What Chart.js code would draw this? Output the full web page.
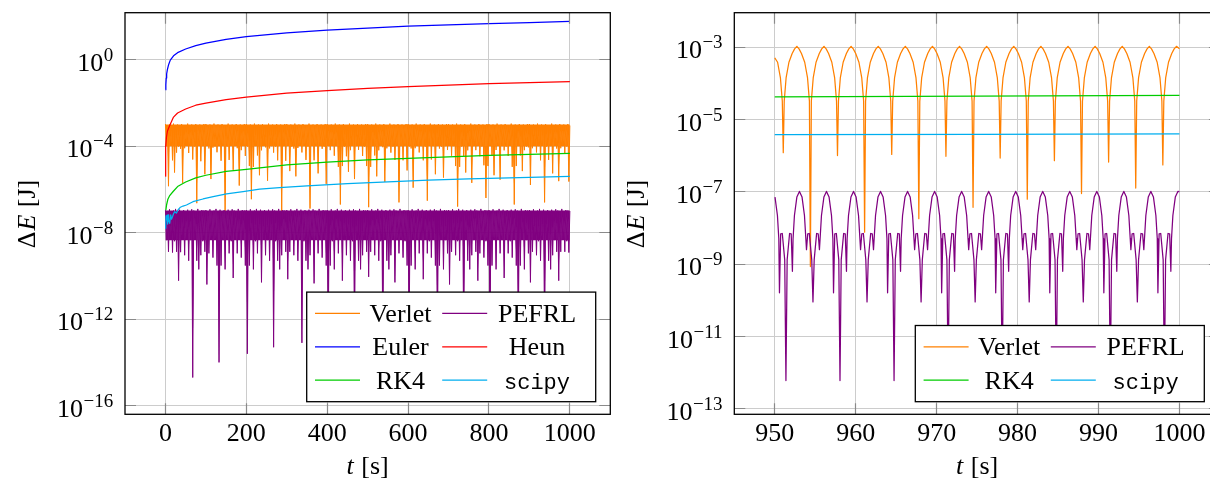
<!DOCTYPE html>
<html>
<head>
<meta charset="utf-8">
<script src="https://cdn.jsdelivr.net/npm/chart.js@4.4.1/dist/chart.umd.min.js"></script>
<style>
  html, body { margin: 0; padding: 0; background: #fff; width: 1210px; height: 484px; overflow: hidden; }
  canvas { position: absolute; top: 0; }
  #left { left: 0; }
  #right { left: 610px; }
</style>
</head>
<body>
<canvas id="left" width="620" height="484"></canvas>
<canvas id="right" width="620" height="484"></canvas>
<script>
// ---- full run, t = 0 .. 1000 s ----
// sampling grid shared by the two oscillating integrators
const bandT = [
  0,2.5,5,7.5,10,12.5,15,17.5,20,22.5,25,27.5,30,32.5,35,37.5,40,42.5,45,47.5,
  50,52.5,55,57.5,60,62.5,65,67.5,70,72.5,75,77.5,80,82.5,85,87.5,90,92.5,95,97.5,
  100,102.5,105,107.5,110,112.5,115,117.5,120,122.5,125,127.5,130,132.5,135,137.5,140,142.5,145,147.5,
  150,152.5,155,157.5,160,162.5,165,167.5,170,172.5,175,177.5,180,182.5,185,187.5,190,192.5,195,197.5,
  200,202.5,205,207.5,210,212.5,215,217.5,220,222.5,225,227.5,230,232.5,235,237.5,240,242.5,245,247.5,
  250,252.5,255,257.5,260,262.5,265,267.5,270,272.5,275,277.5,280,282.5,285,287.5,290,292.5,295,297.5,
  300,302.5,305,307.5,310,312.5,315,317.5,320,322.5,325,327.5,330,332.5,335,337.5,340,342.5,345,347.5,
  350,352.5,355,357.5,360,362.5,365,367.5,370,372.5,375,377.5,380,382.5,385,387.5,390,392.5,395,397.5,
  400,402.5,405,407.5,410,412.5,415,417.5,420,422.5,425,427.5,430,432.5,435,437.5,440,442.5,445,447.5,
  450,452.5,455,457.5,460,462.5,465,467.5,470,472.5,475,477.5,480,482.5,485,487.5,490,492.5,495,497.5,
  500,502.5,505,507.5,510,512.5,515,517.5,520,522.5,525,527.5,530,532.5,535,537.5,540,542.5,545,547.5,
  550,552.5,555,557.5,560,562.5,565,567.5,570,572.5,575,577.5,580,582.5,585,587.5,590,592.5,595,597.5,
  600,602.5,605,607.5,610,612.5,615,617.5,620,622.5,625,627.5,630,632.5,635,637.5,640,642.5,645,647.5,
  650,652.5,655,657.5,660,662.5,665,667.5,670,672.5,675,677.5,680,682.5,685,687.5,690,692.5,695,697.5,
  700,702.5,705,707.5,710,712.5,715,717.5,720,722.5,725,727.5,730,732.5,735,737.5,740,742.5,745,747.5,
  750,752.5,755,757.5,760,762.5,765,767.5,770,772.5,775,777.5,780,782.5,785,787.5,790,792.5,795,797.5,
  800,802.5,805,807.5,810,812.5,815,817.5,820,822.5,825,827.5,830,832.5,835,837.5,840,842.5,845,847.5,
  850,852.5,855,857.5,860,862.5,865,867.5,870,872.5,875,877.5,880,882.5,885,887.5,890,892.5,895,897.5,
  900,902.5,905,907.5,910,912.5,915,917.5,920,922.5,925,927.5,930,932.5,935,937.5,940,942.5,945,947.5,
  950,952.5,955,957.5,960,962.5,965,967.5,970,972.5,975,977.5,980,982.5,985,987.5,990,992.5,995,997.5,
  1000
];

const verletLeftE = [
  1.05e-3,1e-4,9e-4,1.4e-6,1e-3,1.05e-4,8.5e-4,2.2e-5,1.1e-3,6e-6,9.5e-4,5e-5,1e-3,9.5e-5,8.8e-4,7.5e-5,1.05e-3,2e-6,9.2e-4,8e-5,
  9.5e-4,1.1e-4,1.1e-3,4.8e-5,9e-4,1e-4,1e-3,2.4e-5,8.5e-4,9.5e-5,1.05e-3,2.3e-7,9.2e-4,1.05e-4,1e-3,2e-5,8.8e-4,1e-4,1.05e-3,5e-6,
  1.05e-3,1.1e-4,9e-4,7.8e-5,1e-3,3e-6,8.5e-4,8.5e-5,1.1e-3,9.5e-5,9.5e-4,5.2e-5,1e-3,1e-4,8.8e-4,2.1e-5,1.05e-3,1.05e-4,9.2e-4,1e-7,
  9.5e-4,9.5e-5,1.1e-3,2.3e-5,9e-4,1.1e-4,1e-3,8e-6,8.5e-4,1e-4,1.05e-3,8e-5,9.2e-4,1.5e-6,1e-3,6.5e-5,8.8e-4,1.05e-4,1.05e-3,3.5e-5,
  1.05e-3,9.5e-5,9e-4,1.2e-5,1e-3,3.5e-7,8.5e-4,1.1e-5,1.1e-3,1e-4,9.5e-4,3.7e-5,1e-3,4.5e-6,8.8e-4,6.4e-5,1.05e-3,1.1e-4,9.2e-4,8.8e-5,
  9.5e-4,2.5e-6,1.1e-3,7.8e-5,9e-4,1e-4,1e-3,5e-5,8.5e-4,9.5e-5,1.05e-3,2.2e-5,9.2e-4,1.05e-4,1e-3,8e-8,8.8e-4,1e-4,1.05e-3,2.1e-5,
  1.05e-3,1.1e-4,9e-4,7e-6,1e-3,9.5e-5,8.5e-4,7.7e-5,1.1e-3,4e-6,9.5e-4,8.2e-5,1e-3,1.05e-4,8.8e-4,5.1e-5,1.05e-3,1e-4,9.2e-4,2.3e-5,
  9.5e-4,9.5e-5,1.1e-3,1.3e-7,9e-4,1.1e-4,1e-3,2.2e-5,8.5e-4,1e-4,1.05e-3,5.5e-6,9.2e-4,1.05e-4,1e-3,7.5e-5,8.8e-4,9.5e-5,1.05e-3,1.8e-6,
  1.05e-3,1e-4,9e-4,6.5e-5,1e-3,1.1e-4,8.5e-4,3.6e-5,1.1e-3,1e-4,9.5e-4,1.1e-5,1e-3,2e-7,8.8e-4,1.2e-5,1.05e-3,9.5e-5,9.2e-4,3.4e-5,
  9.5e-4,6.5e-6,1.1e-3,6.5e-5,9e-4,1.05e-4,1e-3,3e-6,8.5e-4,1e-4,1.05e-3,6.7e-5,9.2e-4,1.1e-4,1e-3,3.5e-5,8.8e-4,9.5e-5,1.05e-3,1.2e-5,
  1.05e-3,1.5e-7,9e-4,1.1e-5,1e-3,1e-4,8.5e-4,3.7e-5,1.1e-3,4e-6,9.5e-4,6.4e-5,1e-3,1.05e-4,8.8e-4,8.9e-5,1.05e-3,2.2e-6,9.2e-4,7.9e-5,
  9.5e-4,1e-4,1.1e-3,5e-5,9e-4,9.5e-5,1e-3,2.3e-5,8.5e-4,1.1e-4,1.05e-3,2.5e-7,9.2e-4,1e-4,1e-3,2.2e-5,8.8e-4,1.05e-4,1.05e-3,7.5e-6,
  1.05e-3,9.5e-5,9e-4,7.8e-5,1e-3,1.2e-6,8.5e-4,8e-5,1.1e-3,1.1e-4,9.5e-4,5.1e-5,1e-3,1e-4,8.8e-4,2.2e-5,1.05e-3,9.5e-5,9.2e-4,3e-7,
  9.5e-4,1.05e-4,1.1e-3,2.4e-5,9e-4,1e-4,1e-3,5e-6,8.5e-4,1.1e-4,1.05e-3,7.7e-5,9.2e-4,9.5e-5,1e-3,3.5e-6,8.8e-4,1e-4,1.05e-3,6.6e-5,
  1.05e-3,1.05e-4,9e-4,3.6e-5,1e-3,1e-4,8.5e-4,1.2e-5,1.1e-3,1.6e-7,9.5e-4,1.1e-5,1e-3,9.5e-5,8.8e-4,3.5e-5,1.05e-3,6e-6,9.2e-4,6.4e-5,
  9.5e-4,1.1e-4,1.1e-3,2e-6,9e-4,1e-4,1e-3,6.5e-5,8.5e-4,1.05e-4,1.05e-3,3.4e-5,9.2e-4,9.5e-5,1e-3,1.3e-5,8.8e-4,4e-7,1.05e-3,1.2e-5,
  1.05e-3,1e-4,9e-4,3.6e-5,1e-3,4.5e-6,8.5e-4,6.6e-5,1.1e-3,1.1e-4,9.5e-4,2.8e-6,1e-3,1e-4,8.8e-4,6.4e-5,1.05e-3,9.5e-5,9.2e-4,3.5e-5,
  9.5e-4,1.05e-4,1.1e-3,1.1e-5,9e-4,2e-7,1e-3,1.2e-5,8.5e-4,1e-4,1.05e-3,3.7e-5,9.2e-4,7e-6,1e-3,6.5e-5,8.8e-4,9.5e-5,1.05e-3,8.8e-5,
  1.05e-3,1.6e-6,9e-4,8e-5,1e-3,1.1e-4,8.5e-4,5.1e-5,1.1e-3,1e-4,9.5e-4,2.2e-5,1e-3,1.05e-4,8.8e-4,2.5e-7,1.05e-3,9.5e-5,9.2e-4,2.3e-5,
  9.5e-4,1e-4,1.1e-3,5.5e-6,9e-4,1.1e-4,1e-3,7.7e-5,8.5e-4,2.4e-6,1.05e-3,8e-5,9.2e-4,1e-4,1e-3,4.8e-5,8.8e-4,9.5e-5,1.05e-3,2.3e-6,
  9e-4
];

const pefrlLeftE = [
  1.1e-7,4.5e-9,1e-7,1.3e-9,1.2e-7,5e-9,9.5e-8,1.2e-9,1.05e-7,4e-9,1.25e-7,1.3e-9,1e-7,6e-11,1.15e-7,1.25e-9,9.5e-8,5.5e-9,1.1e-7,9e-10,
  1e-7,4.8e-9,1.15e-7,5e-10,9.5e-8,4.5e-9,1.2e-7,2e-15,1.05e-7,5e-9,1e-7,5e-10,1.25e-7,2e-10,9.5e-8,9e-10,1.1e-7,4e-9,1.05e-7,1.3e-9,
  1.1e-7,4e-11,1e-7,1.1e-9,1.2e-7,5.5e-9,9.5e-8,7e-10,1.05e-7,4.8e-9,1.25e-7,3e-10,1e-7,1e-14,1.15e-7,3e-10,9.5e-8,4.5e-9,1.1e-7,2e-10,
  1e-7,5e-9,1.15e-7,1.1e-9,9.5e-8,4e-9,1.2e-7,8e-11,1.05e-7,5.5e-9,1e-7,1.1e-9,1.25e-7,4.8e-9,9.5e-8,7e-10,1.1e-7,4.5e-9,1.05e-7,3e-10,
  1.1e-7,2.5e-14,1e-7,3e-10,1.2e-7,5e-9,9.5e-8,2e-10,1.05e-7,4e-9,1.25e-7,1.1e-9,1e-7,5.5e-9,1.15e-7,5e-11,9.5e-8,4.8e-9,1.1e-7,9e-10,
  1e-7,4.5e-9,1.15e-7,5e-10,9.5e-8,5e-9,1.2e-7,5e-14,1.05e-7,4e-9,1e-7,5e-10,1.25e-7,2e-10,9.5e-8,9e-10,1.1e-7,5.5e-9,1.05e-7,1.3e-9,
  1.1e-7,7e-11,1e-7,1.3e-9,1.2e-7,4.8e-9,9.5e-8,9e-10,1.05e-7,4.5e-9,1.25e-7,5e-10,1e-7,5e-9,1.15e-7,8e-14,9.5e-8,4e-9,1.1e-7,5e-10,
  1e-7,2e-10,1.15e-7,9e-10,9.5e-8,5.5e-9,1.2e-7,4.5e-11,1.05e-7,4.8e-9,1e-7,1.1e-9,1.25e-7,4.5e-9,9.5e-8,7e-10,1.1e-7,5e-9,1.05e-7,3e-10,
  1.1e-7,1e-13,1e-7,3e-10,1.2e-7,4e-9,9.5e-8,2e-10,1.05e-7,5.5e-9,1.25e-7,1.1e-9,1e-7,4.8e-9,1.15e-7,6e-11,9.5e-8,4.5e-9,1.1e-7,9e-10,
  1e-7,5e-9,1.15e-7,5e-10,9.5e-8,4e-9,1.2e-7,1.2e-13,1.05e-7,5.5e-9,1e-7,5e-10,1.25e-7,2e-10,9.5e-8,9e-10,1.1e-7,4.8e-9,1.05e-7,1.3e-9,
  1.1e-7,9e-11,1e-7,1.3e-9,1.2e-7,4.5e-9,9.5e-8,9e-10,1.05e-7,5e-9,1.25e-7,5e-10,1e-7,4e-9,1.15e-7,1e-13,9.5e-8,5.5e-9,1.1e-7,5e-10,
  1e-7,2e-10,1.15e-7,9e-10,9.5e-8,4.8e-9,1.2e-7,5e-11,1.05e-7,4.5e-9,1e-7,1.1e-9,1.25e-7,5e-9,9.5e-8,7e-10,1.1e-7,4e-9,1.05e-7,3e-10,
  1.1e-7,1.5e-13,1e-7,3e-10,1.2e-7,5.5e-9,9.5e-8,2e-10,1.05e-7,4.8e-9,1.25e-7,1.1e-9,1e-7,4.5e-9,1.15e-7,7e-11,9.5e-8,5e-9,1.1e-7,1.1e-9,
  1e-7,4e-9,1.15e-7,7e-10,9.5e-8,5.5e-9,1.2e-7,3e-10,1.05e-7,1e-13,1e-7,3e-10,1.25e-7,4.8e-9,9.5e-8,2e-10,1.1e-7,4.5e-9,1.05e-7,1.1e-9,
  1.1e-7,4e-11,1e-7,1.3e-9,1.2e-7,5e-9,9.5e-8,9e-10,1.05e-7,4e-9,1.25e-7,5e-10,1e-7,5.5e-9,1.15e-7,1.2e-13,9.5e-8,4.8e-9,1.1e-7,5e-10,
  1e-7,2e-10,1.15e-7,9e-10,9.5e-8,4.5e-9,1.2e-7,1.3e-9,1.05e-7,6e-11,1e-7,1.1e-9,1.25e-7,5e-9,9.5e-8,7e-10,1.1e-7,4e-9,1.05e-7,3e-10,
  1.1e-7,1e-13,1e-7,3e-10,1.2e-7,5.5e-9,9.5e-8,2e-10,1.05e-7,4.8e-9,1.25e-7,1.1e-9,1e-7,4.5e-9,1.15e-7,8e-11,9.5e-8,5e-9,1.1e-7,1.1e-9,
  1e-7,4e-9,1.15e-7,7e-10,9.5e-8,5.5e-9,1.2e-7,3e-10,1.05e-7,1.5e-13,1e-7,3e-10,1.25e-7,4.8e-9,9.5e-8,2e-10,1.1e-7,4.5e-9,1.05e-7,1.1e-9,
  1.1e-7,5e-11,1e-7,1.3e-9,1.2e-7,5e-9,9.5e-8,9e-10,1.05e-7,4e-9,1.25e-7,5e-10,1e-7,5.5e-9,1.15e-7,1.2e-13,9.5e-8,4.8e-9,1.1e-7,5e-10,
  1e-7,2e-10,1.15e-7,9e-10,9.5e-8,4.5e-9,1.2e-7,1.3e-9,1.05e-7,6e-11,1e-7,1.3e-9,1.25e-7,5e-9,9.5e-8,1.3e-9,1.1e-7,4e-9,1.05e-7,1.2e-9,
  1e-7
];

const eulerT = [0.5, 1, 2, 3, 5, 8, 12, 20, 30, 50, 75, 100, 150, 200, 300, 400, 500, 600, 700, 800, 900, 1000];
const eulerE = [0.04, 0.07, 0.14, 0.22, 0.36, 0.6, 0.95, 1.5, 2.1, 3.1, 4.4, 5.8, 8.7, 11.6, 17.4, 23, 29, 35, 40.5, 46.5, 52, 58];

const heunT = [0.05, 0.2, 0.5, 1, 2.5, 5, 10, 20, 30, 50, 75, 100, 150, 200, 300, 400, 500, 600, 700, 800, 900, 1000];
const heunE = [4e-6, 2e-5, 5e-5, 1e-4, 2.6e-4, 5e-4, 8.5e-4, 2.2e-3, 3.4e-3, 5.2e-3, 7.8e-3, 0.0098, 0.0142, 0.0185, 0.028, 0.037, 0.047, 0.057, 0.067, 0.077, 0.087, 0.096];

const rk4LeftT = [1, 3, 6, 10, 19, 30, 50, 75, 100, 150, 200, 300, 400, 500, 600, 700, 800, 900, 1000];
const rk4LeftE = [1.1e-7, 2e-7, 3.5e-7, 5e-7, 8e-7, 1.35e-6, 2.2e-6, 3.4e-6, 4.5e-6, 6.8e-6, 8.5e-6, 1.35e-5, 1.8e-5, 2.3e-5, 2.75e-5, 3.2e-5, 3.7e-5, 4.15e-5, 4.6e-5];

const scipyLeftT = [0.5, 1.5, 2.5, 4, 5.5, 6.5, 8, 10.5, 13, 15, 17.5, 20, 23, 27, 31, 37, 43.5, 52, 68, 93, 118, 151, 192, 233, 282, 350, 450, 550, 650, 750, 850, 1000];
const scipyLeftE = [1.5e-8, 6e-8, 3.9e-8, 6.5e-8, 2.5e-8, 6.6e-8, 4e-8, 2.7e-8, 6.6e-8, 4.2e-8, 5.5e-8, 7.5e-8, 9.3e-8, 8e-8, 1.12e-7, 1.5e-7, 1.7e-7, 1.9e-7, 2.7e-7, 3.6e-7, 4.6e-7, 6.2e-7, 7.9e-7, 1.02e-6, 1.2e-6, 1.45e-6, 1.85e-6, 2.25e-6, 2.65e-6, 3.05e-6, 3.45e-6, 4e-6];

// ---- last 50 s, t = 950 .. 1000 s ----
const verletRightT = [
  950.00, 950.35, 950.70, 950.93,
  951.05, 951.17, 951.40, 951.75, 952.15, 952.45, 952.73, 953.00, 953.30, 953.70, 954.05, 954.28,
  954.40, 954.52, 954.75, 955.10, 955.50, 955.80, 956.08, 956.35, 956.65, 957.05, 957.40, 957.63,
  957.75, 957.87, 958.10, 958.45, 958.85, 959.15, 959.43, 959.70, 960.00, 960.40, 960.75, 960.98,
  961.10, 961.22, 961.45, 961.80, 962.20, 962.50, 962.78, 963.05, 963.35, 963.75, 964.10, 964.33,
  964.45, 964.57, 964.80, 965.15, 965.55, 965.85, 966.13, 966.40, 966.70, 967.10, 967.45, 967.68,
  967.80, 967.92, 968.15, 968.50, 968.90, 969.20, 969.48, 969.75, 970.05, 970.45, 970.80, 971.03,
  971.15, 971.27, 971.50, 971.85, 972.25, 972.55, 972.83, 973.10, 973.40, 973.80, 974.15, 974.38,
  974.50, 974.62, 974.85, 975.20, 975.60, 975.90, 976.18, 976.45, 976.75, 977.15, 977.50, 977.73,
  977.85, 977.97, 978.20, 978.55, 978.95, 979.25, 979.53, 979.80, 980.10, 980.50, 980.85, 981.08,
  981.20, 981.32, 981.55, 981.90, 982.30, 982.60, 982.88, 983.15, 983.45, 983.85, 984.20, 984.43,
  984.55, 984.67, 984.90, 985.25, 985.65, 985.95, 986.23, 986.50, 986.80, 987.20, 987.55, 987.78,
  987.90, 988.02, 988.25, 988.60, 989.00, 989.30, 989.58, 989.85, 990.15, 990.55, 990.90, 991.13,
  991.25, 991.37, 991.60, 991.95, 992.35, 992.65, 992.93, 993.20, 993.50, 993.90, 994.25, 994.48,
  994.60, 994.72, 994.95, 995.30, 995.70, 996.00, 996.28, 996.55, 996.85, 997.25, 997.60, 997.83,
  997.95, 998.07, 998.30, 998.65, 999.05, 999.35, 999.63, 1000.00
];
const verletRightE = [
  5e-4, 3.8e-4, 1.4e-4, 3.2e-5,
  1.2e-6, 3.2e-5, 1.4e-4, 3.8e-4, 6.6e-4, 8.9e-4, 1.05e-3, 8.9e-4, 6.6e-4, 3.8e-4, 1.4e-4, 3.2e-5,
  8.5e-10, 3.2e-5, 1.4e-4, 3.8e-4, 6.6e-4, 8.9e-4, 1.05e-3, 8.9e-4, 6.6e-4, 3.8e-4, 1.4e-4, 3.2e-5,
  1e-6, 3.2e-5, 1.4e-4, 3.8e-4, 6.6e-4, 8.9e-4, 1.05e-3, 8.9e-4, 6.6e-4, 3.8e-4, 1.4e-4, 3.2e-5,
  7.6e-9, 3.2e-5, 1.4e-4, 3.8e-4, 6.6e-4, 8.9e-4, 1.05e-3, 8.9e-4, 6.6e-4, 3.8e-4, 1.4e-4, 3.2e-5,
  1.07e-6, 3.2e-5, 1.4e-4, 3.8e-4, 6.6e-4, 8.9e-4, 1.05e-3, 8.9e-4, 6.6e-4, 3.8e-4, 1.4e-4, 3.2e-5,
  1.8e-8, 3.2e-5, 1.4e-4, 3.8e-4, 6.6e-4, 8.9e-4, 1.05e-3, 8.9e-4, 6.6e-4, 3.8e-4, 1.4e-4, 3.2e-5,
  9.5e-7, 3.2e-5, 1.4e-4, 3.8e-4, 6.6e-4, 8.9e-4, 1.05e-3, 8.9e-4, 6.6e-4, 3.8e-4, 1.4e-4, 3.2e-5,
  3.7e-8, 3.2e-5, 1.4e-4, 3.8e-4, 6.6e-4, 8.9e-4, 1.05e-3, 8.9e-4, 6.6e-4, 3.8e-4, 1.4e-4, 3.2e-5,
  8.5e-7, 3.2e-5, 1.4e-4, 3.8e-4, 6.6e-4, 8.9e-4, 1.05e-3, 8.9e-4, 6.6e-4, 3.8e-4, 1.4e-4, 3.2e-5,
  6.2e-8, 3.2e-5, 1.4e-4, 3.8e-4, 6.6e-4, 8.9e-4, 1.05e-3, 8.9e-4, 6.6e-4, 3.8e-4, 1.4e-4, 3.2e-5,
  7.2e-7, 3.2e-5, 1.4e-4, 3.8e-4, 6.6e-4, 8.9e-4, 1.05e-3, 8.9e-4, 6.6e-4, 3.8e-4, 1.4e-4, 3.2e-5,
  8.9e-8, 3.2e-5, 1.4e-4, 3.8e-4, 6.6e-4, 8.9e-4, 1.05e-3, 8.9e-4, 6.6e-4, 3.8e-4, 1.4e-4, 3.2e-5,
  6.6e-7, 3.2e-5, 1.4e-4, 3.8e-4, 6.6e-4, 8.9e-4, 1.05e-3, 8.9e-4, 6.6e-4, 3.8e-4, 1.4e-4, 3.2e-5,
  1.26e-7, 3.2e-5, 1.4e-4, 3.8e-4, 6.6e-4, 8.9e-4, 1.05e-3, 8.9e-4, 6.6e-4, 3.8e-4, 1.4e-4, 3.2e-5,
  5.5e-7, 3.2e-5, 1.4e-4, 3.8e-4, 6.6e-4, 8.9e-4, 1.05e-3, 9e-4
];

const pefrlRightT = [
  950.03, 950.33, 950.50, 950.58, 950.73, 950.93, 951.23, 951.38, 951.53, 951.83, 952.03, 952.18, 952.26, 952.43, 952.73, 953.05,
  953.37, 953.67, 953.84, 953.92, 954.07, 954.27, 954.57, 954.72, 954.87, 955.17, 955.37, 955.52, 955.60, 955.77, 956.07, 956.39,
  956.71, 957.01, 957.18, 957.26, 957.41, 957.61, 957.91, 958.06, 958.21, 958.51, 958.71, 958.86, 958.94, 959.11, 959.41, 959.73,
  960.05, 960.35, 960.52, 960.60, 960.75, 960.95, 961.25, 961.40, 961.55, 961.85, 962.05, 962.20, 962.28, 962.45, 962.75, 963.07,
  963.39, 963.69, 963.86, 963.94, 964.09, 964.29, 964.59, 964.74, 964.89, 965.19, 965.39, 965.54, 965.62, 965.79, 966.09, 966.41,
  966.73, 967.03, 967.20, 967.28, 967.43, 967.63, 967.93, 968.08, 968.23, 968.53, 968.73, 968.88, 968.96, 969.13, 969.43, 969.75,
  970.07, 970.37, 970.54, 970.62, 970.77, 970.97, 971.27, 971.42, 971.57, 971.87, 972.07, 972.22, 972.30, 972.47, 972.77, 973.09,
  973.41, 973.71, 973.88, 973.96, 974.11, 974.31, 974.61, 974.76, 974.91, 975.21, 975.41, 975.56, 975.64, 975.81, 976.11, 976.43,
  976.75, 977.05, 977.22, 977.30, 977.45, 977.65, 977.95, 978.10, 978.25, 978.55, 978.75, 978.90, 978.98, 979.15, 979.45, 979.77,
  980.09, 980.39, 980.56, 980.64, 980.79, 980.99, 981.29, 981.44, 981.59, 981.89, 982.09, 982.24, 982.32, 982.49, 982.79, 983.11,
  983.43, 983.73, 983.90, 983.98, 984.13, 984.33, 984.63, 984.78, 984.93, 985.23, 985.43, 985.58, 985.66, 985.83, 986.13, 986.45,
  986.77, 987.07, 987.24, 987.32, 987.47, 987.67, 987.97, 988.12, 988.27, 988.57, 988.77, 988.92, 989.00, 989.17, 989.47, 989.79,
  990.11, 990.41, 990.58, 990.66, 990.81, 991.01, 991.31, 991.46, 991.61, 991.91, 992.11, 992.26, 992.34, 992.51, 992.81, 993.13,
  993.45, 993.75, 993.92, 994.00, 994.15, 994.35, 994.65, 994.80, 994.95, 995.25, 995.45, 995.60, 995.68, 995.85, 996.15, 996.47,
  996.79, 997.09, 997.26, 997.34, 997.49, 997.69, 997.99, 998.14, 998.29, 998.59, 998.79, 998.94, 999.02, 999.19, 999.49, 999.81,
  1000.00
];
const pefrlRightE = [
  7.1e-8, 2.2e-8, 5e-9, 1.6e-10, 6.8e-9, 7e-9, 1.3e-9, 6e-13, 1.3e-9, 7e-9, 6.8e-9, 6.3e-10, 5e-9, 2.2e-8, 7.1e-8, 1.02e-7,
  7.1e-8, 2.2e-8, 5e-9, 2.5e-9, 6.8e-9, 7e-9, 1.3e-9, 9e-11, 1.3e-9, 7e-9, 6.8e-9, 2.5e-9, 5e-9, 2.2e-8, 7.1e-8, 1.02e-7,
  7.1e-8, 2.2e-8, 5e-9, 1.6e-10, 6.8e-9, 7e-9, 1.3e-9, 6e-13, 1.3e-9, 7e-9, 6.8e-9, 6.3e-10, 5e-9, 2.2e-8, 7.1e-8, 1.02e-7,
  7.1e-8, 2.2e-8, 5e-9, 2.5e-9, 6.8e-9, 7e-9, 1.3e-9, 9e-11, 1.3e-9, 7e-9, 6.8e-9, 2.5e-9, 5e-9, 2.2e-8, 7.1e-8, 1.02e-7,
  7.1e-8, 2.2e-8, 5e-9, 1.6e-10, 6.8e-9, 7e-9, 1.3e-9, 6e-13, 1.3e-9, 7e-9, 6.8e-9, 6.3e-10, 5e-9, 2.2e-8, 7.1e-8, 1.02e-7,
  7.1e-8, 2.2e-8, 5e-9, 2.5e-9, 6.8e-9, 7e-9, 1.3e-9, 9e-11, 1.3e-9, 7e-9, 6.8e-9, 2.5e-9, 5e-9, 2.2e-8, 7.1e-8, 1.02e-7,
  7.1e-8, 2.2e-8, 5e-9, 1.6e-10, 6.8e-9, 7e-9, 1.3e-9, 6e-13, 1.3e-9, 7e-9, 6.8e-9, 6.3e-10, 5e-9, 2.2e-8, 7.1e-8, 1.02e-7,
  7.1e-8, 2.2e-8, 5e-9, 2.5e-9, 6.8e-9, 7e-9, 1.3e-9, 9e-11, 1.3e-9, 7e-9, 6.8e-9, 2.5e-9, 5e-9, 2.2e-8, 7.1e-8, 1.02e-7,
  7.1e-8, 2.2e-8, 5e-9, 1.6e-10, 6.8e-9, 7e-9, 1.3e-9, 6e-13, 1.3e-9, 7e-9, 6.8e-9, 6.3e-10, 5e-9, 2.2e-8, 7.1e-8, 1.02e-7,
  7.1e-8, 2.2e-8, 5e-9, 2.5e-9, 6.8e-9, 7e-9, 1.3e-9, 9e-11, 1.3e-9, 7e-9, 6.8e-9, 2.5e-9, 5e-9, 2.2e-8, 7.1e-8, 1.02e-7,
  7.1e-8, 2.2e-8, 5e-9, 1.6e-10, 6.8e-9, 7e-9, 1.3e-9, 6e-13, 1.3e-9, 7e-9, 6.8e-9, 6.3e-10, 5e-9, 2.2e-8, 7.1e-8, 1.02e-7,
  7.1e-8, 2.2e-8, 5e-9, 2.5e-9, 6.8e-9, 7e-9, 1.3e-9, 9e-11, 1.3e-9, 7e-9, 6.8e-9, 2.5e-9, 5e-9, 2.2e-8, 7.1e-8, 1.02e-7,
  7.1e-8, 2.2e-8, 5e-9, 1.6e-10, 6.8e-9, 7e-9, 1.3e-9, 6e-13, 1.3e-9, 7e-9, 6.8e-9, 6.3e-10, 5e-9, 2.2e-8, 7.1e-8, 1.02e-7,
  7.1e-8, 2.2e-8, 5e-9, 2.5e-9, 6.8e-9, 7e-9, 1.3e-9, 9e-11, 1.3e-9, 7e-9, 6.8e-9, 2.5e-9, 5e-9, 2.2e-8, 7.1e-8, 1.02e-7,
  7.1e-8, 2.2e-8, 5e-9, 1.6e-10, 6.8e-9, 7e-9, 1.3e-9, 6e-13, 1.3e-9, 7e-9, 6.8e-9, 6.3e-10, 5e-9, 2.2e-8, 7.1e-8, 1.02e-7,
  1e-7
];

const rk4RightT = [950, 975, 1000];
const rk4RightE = [4.22e-5, 4.4e-5, 4.6e-5];
const scipyRightT = [950, 975, 1000];
const scipyRightE = [3.77e-6, 3.88e-6, 4.0e-6];

// ---- axes ----
const leftXTicks = [0, 200, 400, 600, 800, 1000];
const leftYTicks = [1e0, 1e-4, 1e-8, 1e-12, 1e-16];
const leftYExps = ['0', '\u22124', '\u22128', '\u221212', '\u221216'];
const rightXTicks = [950, 960, 970, 980, 990, 1000];
const rightYTicks = [1e-3, 1e-5, 1e-7, 1e-9, 1e-11, 1e-13];
const rightYExps = ['\u22123', '\u22125', '\u22127', '\u22129', '\u221211', '\u221213'];

const SERIF = '"Liberation Serif", "DejaVu Serif", serif';
const MONO = '"Liberation Mono", "DejaVu Sans Mono", monospace';
const GRID = 'rgb(204,204,204)';
const TICK_LEN = 11;

const COLORS = {
  verlet: '#ff8000',
  pefrl: '#800080',
  euler: '#0000ff',
  heun: '#ff0000',
  rk4: '#00cc00',
  scipy: '#00aeef'
};

function series(label, color, ts, es, order, extra = {}) {
  const ds = {
    label,
    mono: !!extra.mono,
    data: ts.map((t, i) => ({ x: t, y: es[i] })),
    borderColor: color,
    backgroundColor: color,
    borderWidth: extra.width || 1.25,
    borderJoinStyle: 'round',
    pointRadius: 0,
    fill: false,
    tension: 0,
    order
  };
  if (extra.fillTo) ds.fill = { value: extra.fillTo };
  return ds;
}

// The fast oscillation cannot be resolved at this time scale. The curve is
// filled up to its upper envelope, and a borderless copy is filled down to the
// usual trough level, so the band between the two comes out solid.
function bandUnderlay(color, ts, es, order, floor) {
  const ds = series('', color, ts, es, order, { fillTo: floor });
  ds.borderColor = 'rgba(0,0,0,0)';
  ds.inLegend = false;
  return ds;
}

// text made of upright and italic runs, centred on (cx, baseline)
function drawRuns(ctx, runs, cx, baseline, size) {
  const widths = runs.map(([txt, it]) => {
    ctx.font = `${it ? 'italic ' : ''}${size}px ${SERIF}`;
    return ctx.measureText(txt).width;
  });
  const gap = 1;
  const total = widths.reduce((s, w) => s + w, 0) + (runs.length - 1) * gap;
  let x = cx - total / 2;
  ctx.textAlign = 'left';
  runs.forEach(([txt, it], i) => {
    ctx.font = `${it ? 'italic ' : ''}${size}px ${SERIF}`;
    ctx.fillText(txt, x, baseline);
    x += widths[i] + gap;
  });
}

const pgfAxes = {
  id: 'pgfAxes',
  afterDatasetsDraw(chart, args, o) {
    const { ctx, chartArea: a } = chart;
    const xs = chart.scales.x, ys = chart.scales.y;
    const align = p => Math.round(p - 0.5) + 0.5;
    ctx.save();

    // tick marks pointing inwards on every side
    ctx.strokeStyle = '#8a8a8a';
    ctx.lineWidth = 1.2;
    ctx.beginPath();
    o.xTicks.forEach(v => {
      const px = align(xs.getPixelForValue(v));
      ctx.moveTo(px, a.top); ctx.lineTo(px, a.top + TICK_LEN);
      ctx.moveTo(px, a.bottom); ctx.lineTo(px, a.bottom - TICK_LEN);
    });
    o.yTicks.forEach(v => {
      const py = align(ys.getPixelForValue(v));
      ctx.moveTo(a.left, py); ctx.lineTo(a.left + TICK_LEN, py);
      ctx.moveTo(a.right, py); ctx.lineTo(a.right - TICK_LEN, py);
    });
    ctx.stroke();

    // axis box
    ctx.strokeStyle = '#000';
    ctx.lineWidth = 1.3;
    ctx.strokeRect(a.left, a.top, a.right - a.left, a.bottom - a.top);

    // x tick labels
    ctx.fillStyle = '#000';
    ctx.textBaseline = 'alphabetic';
    ctx.textAlign = 'center';
    ctx.font = `26px ${SERIF}`;
    o.xTicks.forEach(v => ctx.fillText(String(v), xs.getPixelForValue(v), a.bottom + 26.7));

    // y tick labels as 10 with a raised exponent
    ctx.textAlign = 'right';
    o.yTicks.forEach((v, i) => {
      const py = ys.getPixelForValue(v);
      const right = a.left - 11.7;
      ctx.font = `19px ${SERIF}`;
      const ew = ctx.measureText(o.yExps[i]).width;
      ctx.fillText(o.yExps[i], right, py + 1.3);
      ctx.font = `26px ${SERIF}`;
      ctx.fillText('10', right - ew - 0.5, py + 11.3);
    });

    // axis titles
    drawRuns(ctx, [['t', true], [' [s]', false]], (a.left + a.right) / 2, 474, 26);
    ctx.save();
    ctx.translate(a.left - 90.5, 214);
    ctx.rotate(-Math.PI / 2);
    drawRuns(ctx, [['\u0394', false], ['E', true], [' [J]', false]], 0, 0, 26);
    ctx.restore();

    // legend, two entries per row in dataset order
    const sets = chart.data.datasets.filter(ds => ds.inLegend !== false);
    const rows = [];
    for (let i = 0; i < sets.length; i += 2) rows.push(sets.slice(i, i + 2));
    const w = 289, gap = 33.4;
    const h = 21.3 + (rows.length - 1) * gap + 21.5;
    const x0 = a.right - o.legendRight - w;
    const y0 = a.bottom - 12.6 - h;
    ctx.fillStyle = '#fff';
    ctx.fillRect(x0, y0, w, h);
    ctx.strokeStyle = '#000';
    ctx.lineWidth = 1.3;
    ctx.strokeRect(x0, y0, w, h);
    ctx.textAlign = 'center';
    rows.forEach((row, r) => {
      const ly = y0 + 21.3 + r * gap;
      row.forEach((ds, c) => {
        const sx = x0 + (c ? 135.5 : 8.3);
        ctx.strokeStyle = ds.borderColor;
        ctx.lineWidth = 1.2;
        ctx.beginPath();
        ctx.moveTo(sx, ly);
        ctx.lineTo(sx + 45, ly);
        ctx.stroke();
        ctx.fillStyle = '#000';
        ctx.font = ds.mono ? `22px ${MONO}` : `26px ${SERIF}`;
        ctx.fillText(ds.label, x0 + (c ? 230.3 : 93.8), ly + 8.3);
      });
    });
    ctx.restore();
  }
};

function makeChart(id, datasets, cfg) {
  return new Chart(document.getElementById(id), {
    type: 'line',
    data: { datasets },
    options: {
      responsive: false,
      animation: false,
      devicePixelRatio: 1,
      events: [],
      parsing: false,
      layout: { padding: { top: 12.7, right: cfg.padRight, left: 0, bottom: 0 } },
      scales: {
        x: {
          type: 'linear',
          bounds: 'data',
          min: cfg.xRange[0],
          max: cfg.xRange[1],
          afterBuildTicks: s => { s.ticks = cfg.xTicks.map(v => ({ value: v })); },
          afterFit: s => { s.height = 69.7; },
          ticks: { display: false },
          grid: { color: GRID, lineWidth: 1, drawTicks: false },
          border: { display: false }
        },
        y: {
          type: 'logarithmic',
          bounds: 'data',
          min: cfg.yRange[0],
          max: cfg.yRange[1],
          afterBuildTicks: s => { s.ticks = cfg.yTicks.map(v => ({ value: v })); },
          afterFit: s => { s.width = cfg.yWidth; },
          ticks: { display: false },
          grid: { color: GRID, lineWidth: 1, drawTicks: false },
          border: { display: false }
        }
      },
      plugins: {
        legend: { display: false },
        tooltip: { enabled: false },
        pgfAxes: { xTicks: cfg.xTicks, yTicks: cfg.yTicks, yExps: cfg.yExps, legendRight: cfg.legendRight }
      }
    },
    plugins: [pgfAxes]
  });
}

makeChart('left', [
  series('Verlet', COLORS.verlet, bandT, verletLeftE, 5, { width: 1, fillTo: 1e-3 }),
  series('PEFRL', COLORS.pefrl, bandT, pefrlLeftE, 4, { width: 1, fillTo: 1.05e-7 }),
  series('Euler', COLORS.euler, eulerT, eulerE, 3),
  series('Heun', COLORS.heun, heunT, heunE, 2),
  series('RK4', COLORS.rk4, rk4LeftT, rk4LeftE, 1),
  series('scipy', COLORS.scipy, scipyLeftT, scipyLeftE, 0, { mono: true }),
  bandUnderlay(COLORS.verlet, bandT, verletLeftE, 5.5, 1e-4),
  bandUnderlay(COLORS.pefrl, bandT, pefrlLeftE, 4.5, 4.5e-9)
], {
  xRange: [-100, 1100],
  yRange: [Math.pow(10, -16.4), Math.pow(10, 2.17)],
  xTicks: leftXTicks, yTicks: leftYTicks, yExps: leftYExps,
  yWidth: 125, padRight: 9.7, legendRight: 14.6
});

makeChart('right', [
  series('Verlet', COLORS.verlet, verletRightT, verletRightE, 3),
  series('PEFRL', COLORS.pefrl, pefrlRightT, pefrlRightE, 2),
  series('RK4', COLORS.rk4, rk4RightT, rk4RightE, 1),
  series('scipy', COLORS.scipy, scipyRightT, scipyRightE, 0, { mono: true })
], {
  xRange: [945, 1005],
  yRange: [Math.pow(10, -13.155), Math.pow(10, -2.05)],
  xTicks: rightXTicks, yTicks: rightYTicks, yExps: rightYExps,
  yWidth: 124.3, padRight: 10.1, legendRight: 15.6
});
</script>
</body>
</html>
